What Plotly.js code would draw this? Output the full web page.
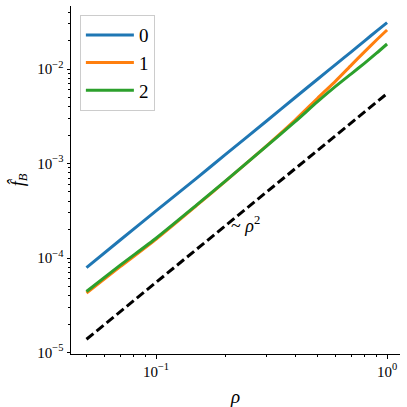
<!DOCTYPE html>
<html>
<head>
<meta charset="utf-8">
<script src="https://cdn.plot.ly/plotly-3.0.1.min.js"></script>
<style>
  html, body { margin: 0; padding: 0; background: #fff; }
  #chart_container { width: 407px; height: 407px; }
</style>
</head>
<body>
<div id="chart_container"></div>
<script>
// values (log-log plot)
var rho = [0.05, 0.07, 0.1, 0.15, 0.2, 0.3, 0.4, 0.5, 0.6, 0.7, 0.8, 0.9, 1.0];
var fB_0 = [7.9e-5, 1.55e-4, 3.15e-4, 7.0e-4, 1.25e-3, 2.8e-3, 5.0e-3, 7.8e-3, 1.12e-2, 1.52e-2, 1.99e-2, 2.52e-2, 3.1e-2];
var fB_1 = [4.26e-5, 8.1e-5, 1.58e-4, 3.6e-4, 6.5e-4, 1.53e-3, 2.88e-3, 4.9e-3, 7.5e-3, 1.1e-2, 1.53e-2, 2.03e-2, 2.59e-2];
var fB_2 = [4.42e-5, 8.4e-5, 1.62e-4, 3.65e-4, 6.55e-4, 1.52e-3, 2.77e-3, 4.51e-3, 6.58e-3, 8.9e-3, 1.155e-2, 1.47e-2, 1.84e-2];
var rhoRef = [0.05, 0.1, 0.2, 0.5, 1.0];
var fRef = [1.38e-5, 5.5e-5, 2.2e-4, 1.38e-3, 5.5e-3];
var seriesNames = ['0', '1', '2'];
var seriesColors = ['#1f77b4', '#ff7f0e', '#2ca02c'];

var xTickVals = [0.1, 1];
var xTickText = ['10<sup>−1</sup>', '10<sup>0</sup>'];
var yTickVals = [1e-5, 1e-4, 1e-3, 1e-2];
var yTickText = ['10<sup>−5</sup>', '10<sup>−4</sup>', '10<sup>−3</sup>', '10<sup>−2</sup>'];

function minorTicks(lo, hi) {
  var out = [];
  for (var e = lo; e <= hi; e++) {
    for (var m = 2; m <= 9; m++) out.push(m * Math.pow(10, e));
  }
  return out;
}

var font = 'Liberation Serif';
var ys = [fB_0, fB_1, fB_2];
var traces = ys.map(function(y, i) {
  return {
    x: rho, y: y, name: seriesNames[i], type: 'scatter', mode: 'lines',
    line: { color: seriesColors[i], width: 3, shape: 'spline', smoothing: 0.6 }
  };
});
traces.push({
  x: rhoRef, y: fRef, type: 'scatter', mode: 'lines', showlegend: false,
  line: { color: '#000', width: 3, dash: '9px,4px' }
});

var layout = {
  width: 407, height: 407,
  margin: { l: 71, r: 7, t: 6, b: 53 },
  paper_bgcolor: '#fff', plot_bgcolor: '#fff',
  font: { family: font, size: 15, color: '#222' },
  showlegend: true,
  legend: {
    x: 0.027, y: 0.974, xanchor: 'left', yanchor: 'top',
    bgcolor: 'rgba(255,255,255,0.8)', bordercolor: '#cccccc', borderwidth: 1,
    font: { family: font, size: 19, color: '#000' },
    itemwidth: 48, tracegroupgap: 0
  },
  xaxis: {
    type: 'log', range: [-1.368, 0.056],
    showgrid: false, zeroline: false,
    showline: true, linecolor: '#000', linewidth: 1, mirror: false,
    ticks: 'outside', ticklen: 3.5, tickcolor: '#000',
    tickmode: 'array', tickvals: xTickVals, ticktext: xTickText,
    minor: { ticks: 'outside', ticklen: 2, tickcolor: '#000', tickmode: 'array', tickvals: minorTicks(-2, 0) },
    tickfont: { family: font, size: 15, color: '#000' },
    title: { text: '<i>ρ</i>', font: { family: font, size: 19, color: '#000' }, standoff: 12 }
  },
  yaxis: {
    type: 'log', range: [-5.016, -1.333],
    showgrid: false, zeroline: false,
    showline: true, linecolor: '#000', linewidth: 1, mirror: false,
    ticks: 'outside', ticklen: 3.5, tickcolor: '#000',
    tickmode: 'array', tickvals: yTickVals, ticktext: yTickText,
    minor: { ticks: 'outside', ticklen: 2, tickcolor: '#000', tickmode: 'array', tickvals: minorTicks(-6, -2) },
    tickfont: { family: font, size: 15, color: '#000' },
    title: { text: '<i>f\u0302</i><sub><i>B</i></sub>', font: { family: font, size: 18, color: '#000' }, standoff: 8 }
  },
  annotations: [{
    x: Math.log10(0.245), y: Math.log10(2.25e-4), xref: 'x', yref: 'y',
    text: '~ <i>ρ</i><sup>2</sup>', showarrow: false,
    font: { family: font, size: 18, color: '#000' }
  }]
};

Plotly.newPlot('chart_container', traces, layout, { displayModeBar: false, staticPlot: true });
</script>
</body>
</html>
